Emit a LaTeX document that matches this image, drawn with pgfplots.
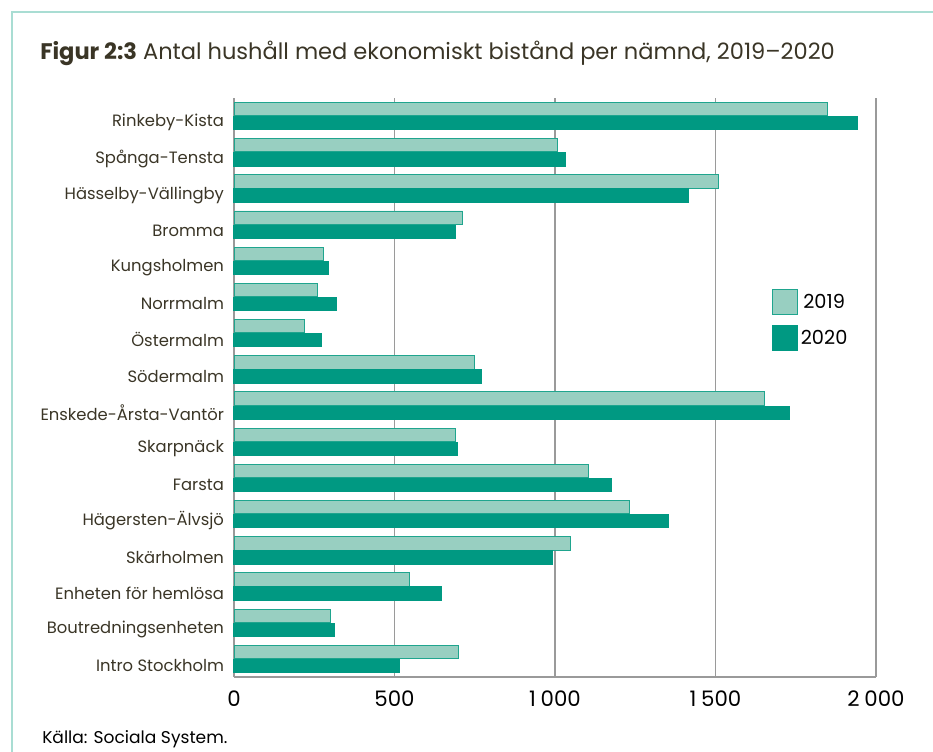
\documentclass[border=0pt]{standalone}
\usepackage{pgfplots}
\pgfplotsset{compat=1.18}
\usepackage{fontspec}
\setmainfont{Poppins}
\definecolor{lightbar}{HTML}{98CFC1}
\definecolor{lightedge}{HTML}{1FA58E}
\definecolor{darkbar}{HTML}{009982}
\definecolor{framec}{HTML}{A9DDD3}
\definecolor{txt}{HTML}{3A3526}
\definecolor{gridc}{HTML}{9A9A9A}
\begin{document}
\begin{tikzpicture}[x=0.75pt,y=-0.75pt]
\path[use as bounding box] (0,0) rectangle (933,751);
\draw[framec,line width=1.5pt] (12,760) -- (12,12) -- (940,12);
\node[anchor=base west,inner sep=0pt,font=\fontsize{16.9}{19}\selectfont,text=txt] at (40,59) {\textbf{Figur 2:3} Antal hushåll med ekonomiskt bistånd per nämnd, 2019–2020};
\node[anchor=base west,inner sep=0pt,font=\fontsize{12.8}{15}\selectfont,text=black] at (42,743) {Källa: Sociala System.};
\begin{axis}[
  at={(175.5pt,-507.75pt)}, anchor=south west,
  scale only axis, width=481.5pt, height=434.25pt,
  xbar, bar width=10pt,
  y dir=reverse,
  xmin=0, xmax=2000, ymin=-0.5, ymax=15.5,
  ytick={0,...,15},
  yticklabels={Rinkeby-Kista,Spånga-Tensta,Hässelby-Vällingby,Bromma,Kungsholmen,Norrmalm,Östermalm,Södermalm,Enskede-Årsta-Vantör,Skarpnäck,Farsta,Hägersten-Älvsjö,Skärholmen,Enheten för hemlösa,Boutredningsenheten,Intro Stockholm},
  xtick={0,500,1000,1500,2000},
  xticklabels={0,500,1\hspace{3.5pt}000,1\hspace{3.5pt}500,2\hspace{3.5pt}000},
  axis x line*=bottom, axis y line*=left,
  axis line style={gridc,line width=0.9pt,-},
  major tick length=0pt,
  xmajorgrids, major grid style={gridc,line width=0.9pt},
  tick label style={text=txt},
  yticklabel style={font=\fontsize{12.3}{14}\selectfont,yshift=-5pt},
  xticklabel style={font=\fontsize{16}{18}\selectfont,text=black},
  xticklabel shift=7pt,
  yticklabel shift=4pt,
  legend style={at={(0.832,0.675)},anchor=north west,draw=none,fill=none,
    font=\fontsize{14.5}{16}\selectfont,row sep=8pt},
  legend image code/.code={\draw[#1] (0pt,-9.4pt) rectangle (18.75pt,9.4pt);},
]
\addplot[fill=lightbar,draw=lightedge,line width=0.6pt,bar shift=5.3pt] coordinates {
(1849,0) (1008,1) (1510,2) (712,3) (280,4) (261,5) (220,6) (750,7)
(1653,8) (689,9) (1104,10) (1231,11) (1047,12) (545,13) (300,14) (700,15)};
\addlegendentry{2019}
\addplot[fill=darkbar,draw=darkbar,line width=0pt,bar shift=-5.3pt] coordinates {
(1943,0) (1034,1) (1416,2) (691,3) (295,4) (320,5) (273,6) (772,7)
(1731,8) (697,9) (1177,10) (1354,11) (991,12) (645,13) (314,14) (516,15)};
\addlegendentry{2020}
\end{axis}
\end{tikzpicture}
\end{document}
